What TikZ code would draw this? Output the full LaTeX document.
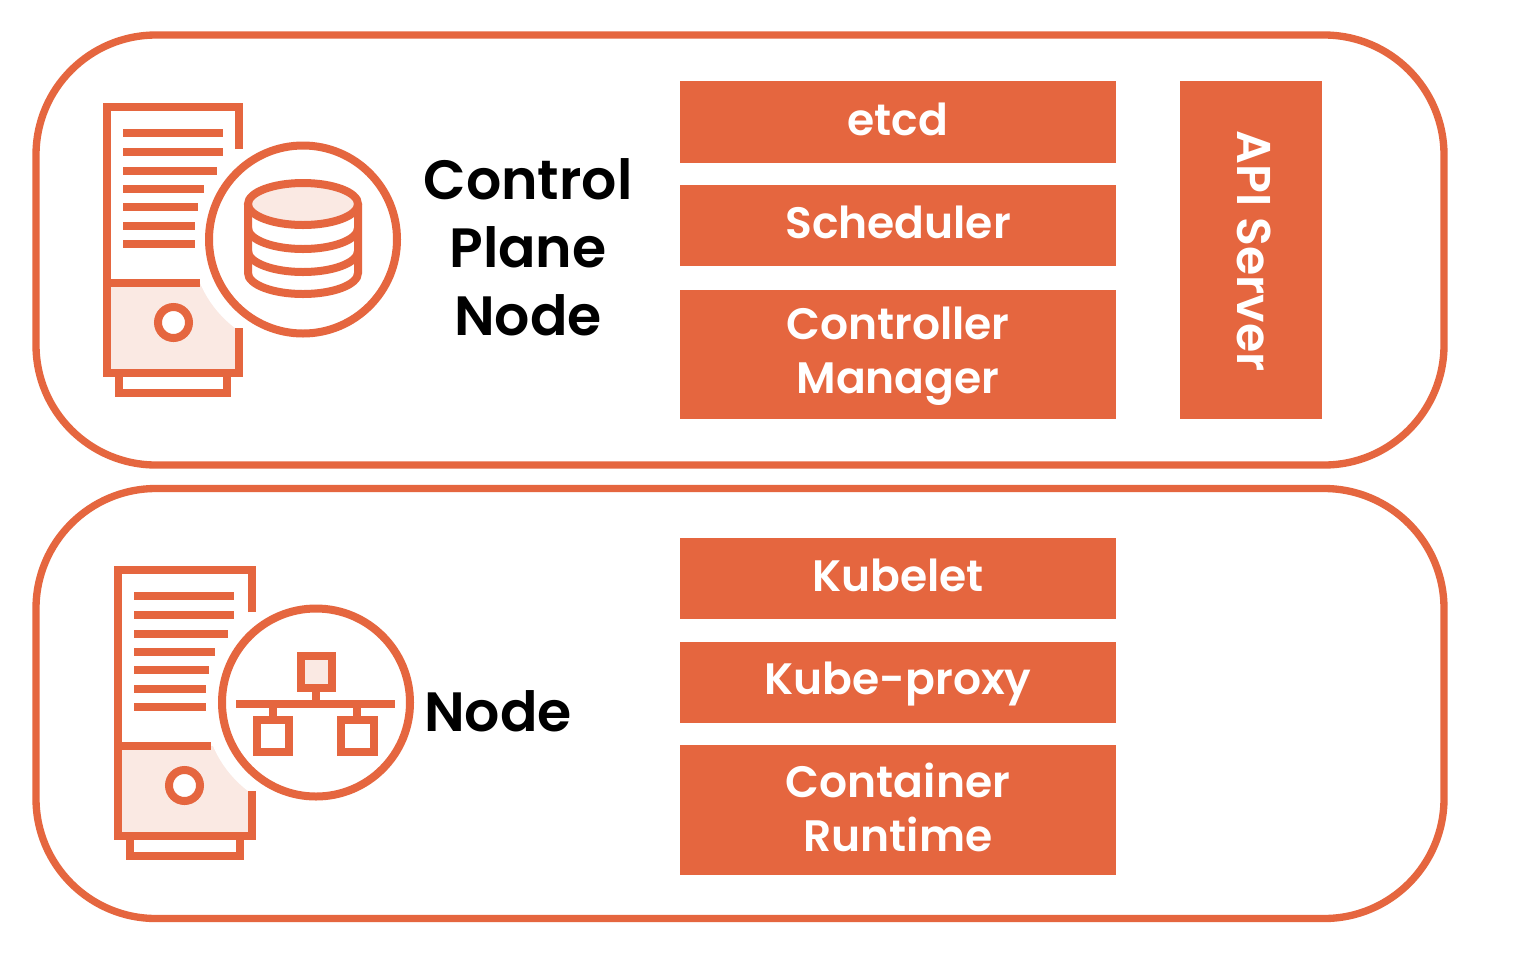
\documentclass[tikz,border=0pt]{standalone}
\usepackage{fontspec}
\setmainfont{Poppins}[BoldFont={Poppins SemiBold}]
\definecolor{org}{HTML}{E5663F}
\definecolor{pale}{HTML}{FAE9E3}
\tikzset{
  x=.75pt,y=-.75pt,
  panel/.style={draw=org,line width=5.5pt,rounded corners=90pt,minimum width=1056pt,minimum height=322.5pt,inner sep=0pt},
  boxtext/.style={text=white,font=\fontsize{33}{40.5}\selectfont\bfseries,align=center,inner sep=0pt},
  box/.style={fill=org,minimum width=327pt,inner sep=0pt},
  lbl/.style={text=black,font=\fontsize{41.5}{51}\selectfont\bfseries,align=center,inner sep=0pt},
  ico/.style={draw=org,line width=6pt},
  thin/.style={draw=org,line width=5.5pt},
}
\newcommand{\servericon}[4]{%
\begin{scope}[shift={(#1,#2)}]
  \fill[pale] (0,176) rectangle (#3,266);
  \fill[white] (#4,132) circle[radius=112];
  \draw[ico,line cap=butt] (#3,42) -- (#3,0) -- (0,0) -- (0,266) -- (#3,266) -- (#3,221);
  \draw[ico] (0,176) -- (93,176);
  \draw[ico] (12,266) -- (12,286) -- ({#3-12},286) -- ({#3-12},266);
  \foreach \yy/\xx in {26/116,45/116,64/110,82/97,100/91,119/88,137/88}
    \draw[thin] (16,\yy) -- (\xx,\yy);
  \draw[ico,fill=white] (66.5,215.5) circle[radius=15.5];
  \draw[ico,fill=white] (#4,132.5) circle[radius=94];
\end{scope}}
\begin{document}
\begin{tikzpicture}
\useasboundingbox (0,0) rectangle (1538,976);
\fill[white] (0,0) rectangle (1538,976);
\node[panel] (cp) at (740,250) {};
\node[panel] (wk) at (740,703.5) {};

\servericon{107}{107}{132}{196}
% database
\begin{scope}[shift={(303,204)}]
  \draw[ico] (-55,0) -- (-55,69) arc[start angle=180,end angle=0,x radius=55,y radius=21] -- (55,0);
  \draw[ico] (-55,24) arc[start angle=180,end angle=0,x radius=55,y radius=21];
  \draw[ico] (-55,47) arc[start angle=180,end angle=0,x radius=55,y radius=21];
  \draw[ico,fill=pale] (0,0) ellipse[x radius=55,y radius=21];
\end{scope}

\servericon{118}{570}{134}{198}
% network
\draw[ico] (236,704) -- (395,704);
\draw[ico] (316,690) -- (316,704);
\draw[ico] (273,704) -- (273,720);
\draw[ico] (357,704) -- (357,720);
\draw[ico,fill=pale] (301,656) rectangle (332,688);
\draw[ico] (257,720) rectangle (289,752);
\draw[ico] (341,720) rectangle (374,752);

\node[lbl] (cpl) at (528,247) {Control\\Plane\\Node};
\node[lbl] (nl) at (498,711) {Node};

\node[box,minimum height=61.5pt] (etcd) at (898,122) {};
\node[boxtext] (etcdt) at (898,119) {etcd};
\node[box,minimum height=61pt] (sch) at (898,225.5) {};
\node[boxtext] (scht) at (898,222.5) {Scheduler};
\node[box,minimum height=97pt] (cm) at (898,354.5) {};
\node[boxtext] (cmt) at (898,356) {Controller\\Manager};
\node[box,minimum width=106.5pt,minimum height=253.5pt] (api) at (1251,250) {};
\node[boxtext,rotate=-90,font=\fontsize{35.5}{40.5}\selectfont\bfseries] (apit) at (1254,251) {API Server};
\node[box,minimum height=61pt] (kub) at (898,578.5) {};
\node[boxtext] (kubt) at (898,575.5) {Kubelet};
\node[box,minimum height=61pt] (kp) at (898,682.5) {};
\node[boxtext] (kpt) at (898,684) {Kube-proxy};
\node[box,minimum height=97.5pt] (cr) at (898,810) {};
\node[boxtext] (crt) at (898,807) {Container\\Runtime};
\end{tikzpicture}
\end{document}
